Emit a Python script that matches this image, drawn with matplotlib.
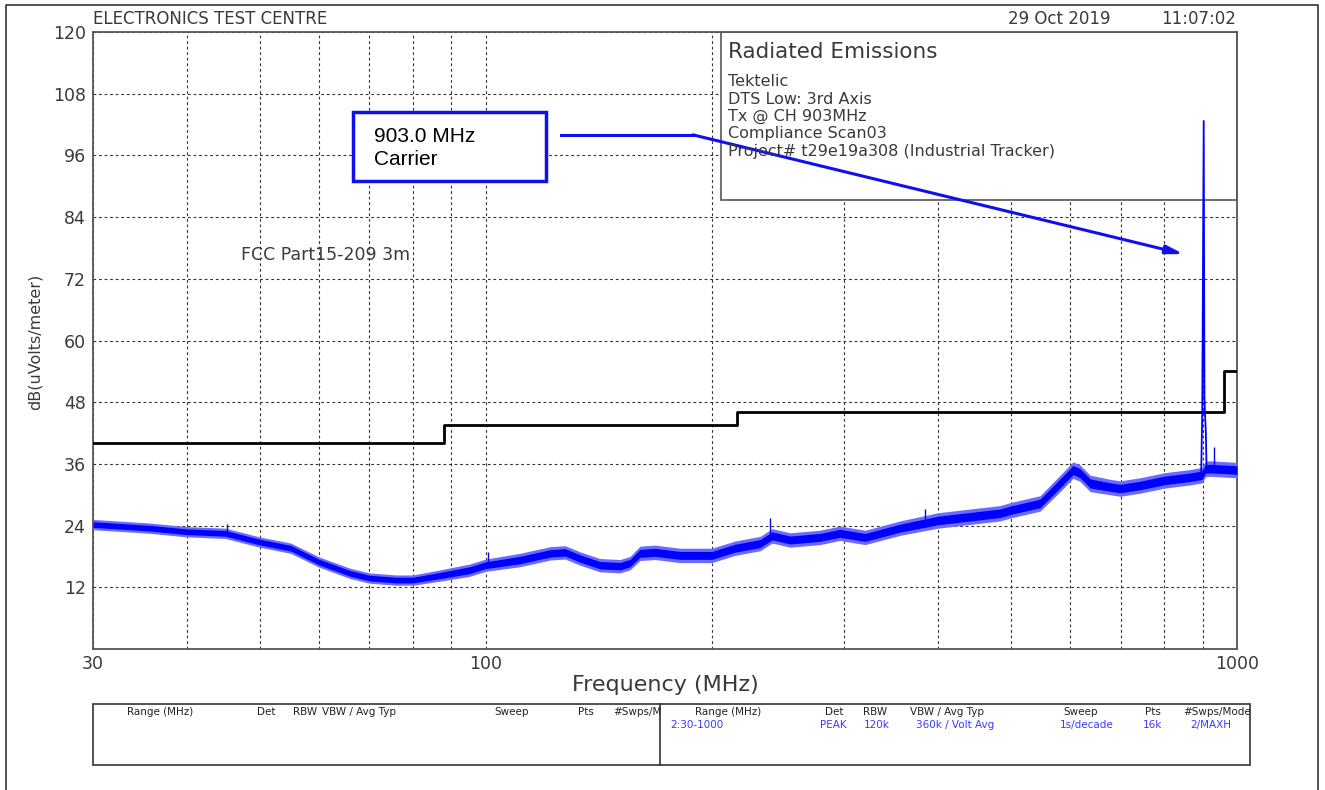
import matplotlib
matplotlib.use("Agg")
import matplotlib.pyplot as plt
from matplotlib.patches import Rectangle
from matplotlib.lines import Line2D
import numpy as np

freq = [30, 35.7, 40, 45, 50, 55, 60, 66, 70, 76, 80, 87, 95, 100, 111, 121.8,
        127.5, 133.5, 141.9, 150.9, 155.6, 160.4, 168, 181.4, 200, 214.6, 231.8,
        240.5, 254.2, 278.6, 296, 319.9, 356, 400, 483.7, 500, 546.7, 581.4, 605,
        618, 637.6, 677.7, 698.7, 742.7, 801.9, 865.9, 898, 908, 920.6, 1000]
level = [24.2, 23.5, 22.8, 22.5, 20.8, 19.6, 16.9, 14.7, 13.8, 13.4, 13.4, 14.3,
         15.3, 16.3, 17.3, 18.6, 18.8, 17.6, 16.3, 16.1, 16.7, 18.6, 18.8, 18.2,
         18.2, 19.6, 20.5, 22.0, 21.2, 21.7, 22.5, 21.7, 23.5, 25.0, 26.4, 27.0,
         28.3, 32.2, 34.8, 34.2, 32.2, 31.5, 31.2, 31.8, 32.8, 33.4, 33.8, 35.0,
         35.1, 34.8]
# half-width of the noise band around the level
spread = [1.0, 1.0, 1.0, 1.0, 1.0, 1.0, 1.0, 1.0, 1.0, 1.0, 1.0, 1.1, 1.2, 1.2,
          1.3, 1.3, 1.3, 1.3, 1.3, 1.3, 1.3, 1.4, 1.4, 1.4, 1.4, 1.4, 1.4, 1.4,
          1.4, 1.4, 1.4, 1.4, 1.4, 1.5, 1.5, 1.5, 1.5, 1.6, 1.6, 1.6, 1.6, 1.5,
          1.5, 1.5, 1.5, 1.5, 1.5, 1.5, 1.5, 1.5]

# carrier at 903 MHz
carrier_f = [896, 899, 903, 905, 907, 909, 911]
carrier_db = [34.0, 46.0, 102.7, 49.0, 45.0, 42.0, 34.5]

# isolated spikes above the noise floor
spike_f = [45.2, 100.7, 239, 384, 932]
spike_top = [24.4, 18.9, 25.4, 27.2, 39.3]
spike_base = [22.5, 16.5, 21.5, 25.3, 35.5]

# FCC Part 15.209 limit at 3 m
limit_f = [30, 88, 88, 216, 216, 960, 960, 1000]
limit_db = [40, 40, 43.5, 43.5, 46, 46, 54, 54]

W, H = 1325, 790
fig = plt.figure(figsize=(W / 100, H / 100), dpi=100)
ax = fig.add_axes([93 / W, 1 - 649 / H, 1144 / W, 617 / H])


def px(x, y):
    return x / W, 1 - y / H


txt = "#3a3a3a"

ax.set_xscale("log")
ax.set_xlim(30, 1000)
ax.set_ylim(0, 120)
ax.set_xticks([30, 100, 1000])
ax.set_xticklabels(["30", "100", "1000"])
ax.set_xticks([40, 50, 60, 70, 80, 90, 200, 300, 400, 500, 600, 700, 800, 900], minor=True)
ax.xaxis.set_minor_formatter(matplotlib.ticker.NullFormatter())
ax.set_yticks(np.arange(0, 121, 12))
ax.set_yticklabels([""] + [str(v) for v in range(12, 121, 12)])
ax.tick_params(which="both", length=0, labelsize=12.5, labelcolor=txt)
ax.tick_params(axis="y", pad=5)
ax.tick_params(axis="x", pad=4)
ax.grid(True, which="both", linestyle=(0, (2.5, 2.5)), linewidth=0.8, color="#333")
for s in ax.spines.values():
    s.set_color("#555")
    s.set_linewidth(1.3)

# info box hides the grid
ax.add_patch(Rectangle((0.549, 0.7277), 0.451, 0.2723, transform=ax.transAxes,
                       facecolor="white", edgecolor="#555", linewidth=1.2, zorder=2))

f = np.array(freq)
lv = np.array(level)
sp = np.array(spread)
ax.fill_between(f, lv - sp, lv + sp, color="#6b6bff", linewidth=0, zorder=3)
ax.fill_between(f, lv - sp * 0.55, lv + sp * 0.55, color="#0000ff", linewidth=0, zorder=3)
ax.vlines(spike_f, spike_base, spike_top, color="#0000ff", linewidth=1, zorder=3)
ax.plot(carrier_f, carrier_db, color="#0000ff", linewidth=1.3, zorder=4)

ax.plot(limit_f, limit_db, color="black", linewidth=2, zorder=3)

ax.text(0.129, 0.638, "FCC Part15-209 3m", transform=ax.transAxes, fontsize=12.5,
        color=txt, va="center")

# carrier callout
ax.add_patch(Rectangle((0.2273, 0.7585), 0.1687, 0.1115, transform=ax.transAxes,
                       facecolor="white", edgecolor="#1010ee", linewidth=2.5, zorder=5))
ax.text(0.246, 0.831, "903.0 MHz", transform=ax.transAxes, fontsize=15,
        family="Liberation Sans", va="center", zorder=6)
ax.text(0.246, 0.793, "Carrier", transform=ax.transAxes, fontsize=15,
        family="Liberation Sans", va="center", zorder=6)
ax.plot([125.9, 188.7], [100, 100], color="#1010ee", linewidth=2.2, zorder=5)
ax.annotate("", xy=(849, 76.8), xytext=(188.7, 100),
            arrowprops=dict(arrowstyle="-|>,head_length=1.0,head_width=0.25",
                            color="#1010ee", lw=2.2, shrinkA=0, shrinkB=0), zorder=5)

ax.set_xlabel("Frequency (MHz)", fontsize=16, color=txt, labelpad=2)
fig.text(*px(35, 342), "dB(uVolts/meter)", rotation=90, fontsize=11.5,
         color=txt, ha="center", va="center")

# header
fig.text(*px(93, 19), "ELECTRONICS TEST CENTRE", fontsize=12, color=txt, va="center")
fig.text(*px(1110, 19), "29 Oct 2019", fontsize=12, color=txt, va="center", ha="right")
fig.text(*px(1236, 19), "11:07:02", fontsize=12, color=txt, va="center", ha="right")

info = ["Tektelic", "DTS Low: 3rd Axis", "Tx @ CH 903MHz", "Compliance Scan03",
        "Project# t29e19a308 (Industrial Tracker)"]
fig.text(*px(728, 52), "Radiated Emissions", fontsize=15.5, color=txt, va="center")
for i, line in enumerate(info):
    fig.text(*px(728, 82 + i * 17.3), line, fontsize=11.5, color=txt, va="center")

# page border
fig.add_artist(Line2D([6 / W, 6 / W, 1318 / W, 1318 / W], [0, 1 - 5 / H, 1 - 5 / H, 0],
                      color="#333", linewidth=1.2))

# settings table
fig.add_artist(Rectangle(px(93, 765), 1157 / W, 61 / H, transform=fig.transFigure,
                         facecolor="none", edgecolor="#333", linewidth=1.2))
fig.add_artist(Line2D([660 / W, 660 / W], [1 - 704 / H, 1 - 765 / H], color="#333", linewidth=1.2))

hdr_names = ["Range (MHz)", "Det", "RBW", "VBW / Avg Typ", "Sweep", "Pts"]
hdr_left_x = [160, 266, 305, 359, 512, 586]
hdr_right_x = [728, 834, 875, 947, 1081, 1153]
row_vals = ["PEAK", "120k", "360k / Volt Avg", "1s/decade", "16k"]
row_x = [833, 877, 955, 1087, 1153]
for name, xl, xr in zip(hdr_names, hdr_left_x, hdr_right_x):
    fig.text(*px(xl, 712), name, fontsize=7.5, color="#222", ha="center", va="center")
    fig.text(*px(xr, 712), name, fontsize=7.5, color="#222", ha="center", va="center")
fig.text(*px(613, 712), "#Swps/M", fontsize=7.5, color="#222", va="center")
fig.text(*px(1217, 712), "#Swps/Mode", fontsize=7.5, color="#222", ha="center", va="center")
fig.text(*px(670, 725), "2:30-1000", fontsize=7.5, color="#3a3aff", va="center")
for v, x in zip(row_vals, row_x):
    fig.text(*px(x, 725), v, fontsize=7.5, color="#3a3aff", ha="center", va="center")
fig.text(*px(1211, 725), "2/MAXH", fontsize=7.5, color="#3a3aff", ha="center", va="center")

fig.savefig("out.png", dpi=100)
